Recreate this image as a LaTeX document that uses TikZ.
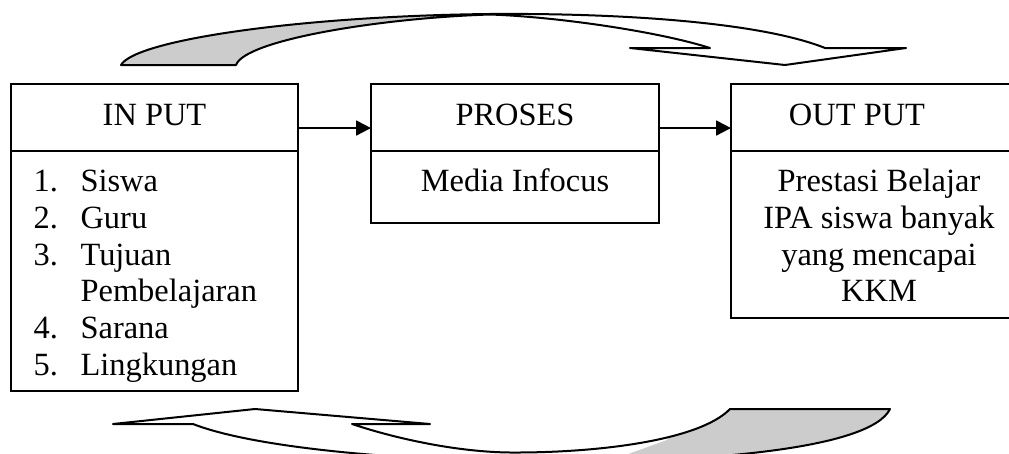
\documentclass[tikz,border=0pt]{standalone}
\usepackage{fontspec}
\setmainfont{Liberation Serif}
\usetikzlibrary{arrows.meta}
\begin{document}
\begin{tikzpicture}[x=0.37pt,y=-0.37pt,
  box/.style={draw, line width=0.74pt, inner sep=0pt, outer sep=0pt, anchor=north west},
  lbl/.style={anchor=base, inner sep=0pt, font=\fontsize{12}{13.57}\selectfont},
  flow/.style={line width=0.74pt, -{Triangle[length=5.5pt,width=5.5pt]}},
  band/.style={line width=0.74pt, line join=round},
  shade/.style={fill=black!20}]
\useasboundingbox (0,0) rectangle (1009,454);
\clip (0,0) rectangle (1009,454);

% boxes
\node[box, minimum width=106.19pt, minimum height=24.79pt] (inh) at (11,84) {};
\node[box, minimum width=106.19pt, minimum height=88.8pt] (inb) at (11,151) {};
\node[box, minimum width=106.56pt, minimum height=24.79pt] (prh) at (371,84) {};
\node[box, minimum width=106.56pt, minimum height=26.64pt] (prb) at (371,151) {};
\node[box, minimum width=111pt, minimum height=24.79pt] (outh) at (731,84) {};
\node[box, minimum width=111pt, minimum height=61.79pt] (outb) at (731,151) {};

% texts
\node[lbl] (tin) at (154.5,125.5) {IN PUT};
\node[lbl] (tpr) at (515,125.5) {PROSES};
\node[lbl] (tmed) at (515,191.7) {Media Infocus};
\node[lbl] (tout) at (857,125.5) {OUT PUT};
\node[lbl, anchor=base west] (list) at (33,191.7) {\begin{tabular}[t]{@{}l@{\hspace{8.4pt}}l@{}}1. & Siswa\\ 2. & Guru\\ 3. & Tujuan\\ & Pembelajaran\\ 4. & Sarana\\ 5. & Lingkungan\end{tabular}};
\node[lbl] (res) at (879,191.7) {\begin{tabular}[t]{@{}c@{}}Prestasi Belajar\\ IPA siswa banyak\\ yang mencapai\\ KKM\end{tabular}};

% connectors
\draw[flow] ([yshift=-3.9pt]inh.east) -- ([yshift=-3.9pt]prh.west);
\draw[flow] ([yshift=-3.9pt]prh.east) -- ([yshift=-3.9pt]outh.west);

% top curved arrow
\fill[shade] (121,65) .. controls (135,40) and (300,16) .. (490,14)
  .. controls (380,18) and (245,40) .. (236,65) -- cycle;
\draw[band] (121,65) .. controls (135,40) and (300,16) .. (490,14)
  .. controls (620,13) and (760,22) .. (825,48) -- (906,48) -- (785,65) -- (630,48) -- (710,48)
  .. controls (660,32) and (560,17) .. (490,14.5)
  .. controls (380,18) and (245,40) .. (236,65) -- cycle;

% bottom curved arrow
\begin{scope}
  \clip (700,380) -- (1009,380) -- (1009,470) -- (584,470) -- (667,440) -- cycle;
  \fill[shade] (510,452.5) .. controls (600,453) and (700,440) .. (730,409) -- (890,409)
    .. controls (870,450) and (700,462) .. (560,462) -- cycle;
\end{scope}
\draw[band] (193,424) .. controls (260,450) and (420,462) .. (560,462)
  .. controls (700,462) and (870,450) .. (890,409) -- (730,409)
  .. controls (700,440) and (600,453) .. (510,452.5)
  .. controls (460,452) and (400,440) .. (352,424) -- (430,424) -- (255,409) -- (113,424) -- cycle;
\end{tikzpicture}
\end{document}
